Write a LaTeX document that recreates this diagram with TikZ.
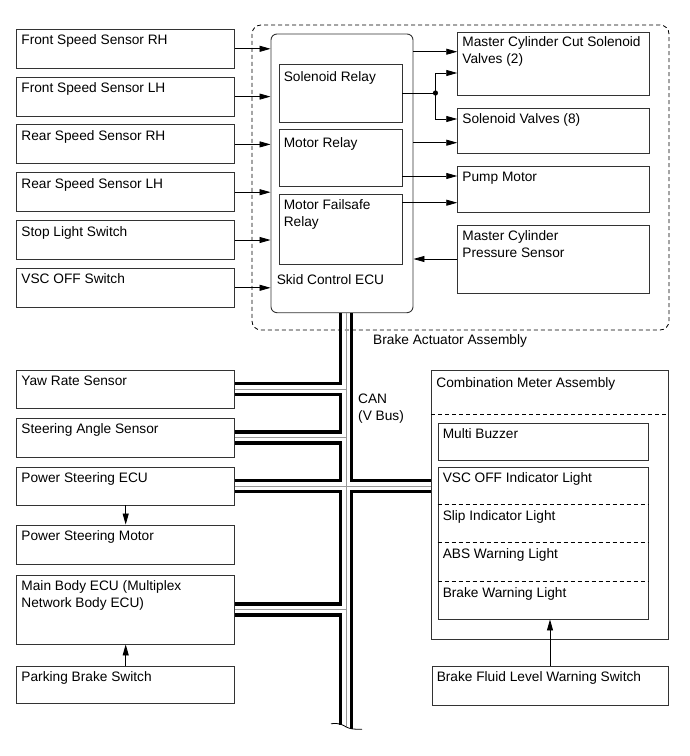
\documentclass[tikz,border=0pt]{standalone}
\usepackage{fontspec}
\setmainfont{Liberation Sans}
\usetikzlibrary{shapes,arrows,arrows.meta}
\tikzstyle{block} = [draw=black!80, line width=0.9pt, rectangle, inner sep=0pt,
    minimum width=218pt, minimum height=39pt]
\tikzstyle{txt} = [inner sep=0pt, anchor=north west, align=left]
\tikzstyle{lbl} = [txt, xshift=5pt, yshift=-6pt]
\tikzstyle{conn} = [draw, line width=0.8pt]
\tikzstyle{bus} = [draw, line width=3.2pt]
\tikzstyle{wire} = [draw, line width=0.9pt, black!40]
\tikzstyle{divider} = [draw=black, line width=0.8pt, dash pattern=on 4pt off 3pt]

\begin{document}
\begin{tikzpicture}[x=1pt, y=-1pt, >={Triangle[length=11pt,width=6pt]},
    font=\fontsize{13.7}{16.7}\selectfont]
\useasboundingbox (0,0) rectangle (689,756);

% brake actuator assembly
\node [divider, rounded corners=9pt, inner sep=0pt, minimum width=417pt, minimum height=305pt] (asm) at (460.5,177.5) {};
\node [txt] (asmtxt) at ([xshift=-87.5pt, yshift=-4pt]asm.south) {Brake Actuator Assembly};

% inputs
\node [block, label={[lbl]north west:Front Speed Sensor RH}] (fsrh) at (125.7,48.8) {};
\node [block, below of=fsrh, node distance=47.8pt, label={[lbl]north west:Front Speed Sensor LH}] (fslh) {};
\node [block, below of=fslh, node distance=47.8pt, label={[lbl]north west:Rear Speed Sensor RH}] (rsrh) {};
\node [block, below of=rsrh, node distance=47.8pt, label={[lbl]north west:Rear Speed Sensor LH}] (rslh) {};
\node [block, below of=rslh, node distance=47.8pt, label={[lbl]north west:Stop Light Switch}] (stopsw) {};
\node [block, below of=stopsw, node distance=47.8pt, label={[lbl]north west:VSC OFF Switch}] (vscsw) {};

% skid control ecu
\node [block, rounded corners=6pt, minimum width=142pt, minimum height=278.7pt] (ecu) at (342,173.35) {};
\node [txt] (ecutxt) at ([xshift=6pt, yshift=38.5pt]ecu.south west) {Skid Control ECU};
\node [block, minimum width=123pt, minimum height=58pt, label={[lbl, yshift=-2pt]north west:Solenoid Relay}] (solrel) at (340.5,93) {};
\node [block, minimum width=123pt, minimum height=57pt, label={[lbl, yshift=-3pt]north west:Motor Relay}] (motrel) at (340.5,157.5) {};
\node [block, minimum width=123pt, minimum height=70pt, label={[lbl]north west:Motor Failsafe\\Relay}] (failrel) at (340.5,229) {};

% actuators
\node [block, minimum width=191.3pt, minimum height=62.3pt, label={[lbl, yshift=2pt]north west:Master Cylinder Cut Solenoid\\Valves (2)}] (mccsv) at (553.35,63.85) {};
\node [block, minimum width=191.3pt, minimum height=45pt, label={[lbl]north west:Solenoid Valves (8)}] (sv) at (553.35,130.5) {};
\node [block, minimum width=191.3pt, minimum height=46pt, label={[lbl]north west:Pump Motor}] (pump) at (553.35,189) {};
\node [block, minimum width=191.3pt, minimum height=68pt, label={[lbl]north west:Master Cylinder\\Pressure Sensor}] (mcps) at (553.35,259) {};

% can nodes
\node [block, minimum height=38pt, label={[lbl]north west:Yaw Rate Sensor}] (yaw) at (125.7,389) {};
\node [block, label={[lbl]north west:Steering Angle Sensor}] (steer) at (125.7,437.5) {};
\node [block, minimum height=38pt, label={[lbl]north west:Power Steering ECU}] (psecu) at (125.7,486) {};
\node [block, label={[lbl]north west:Power Steering Motor}] (psmotor) at (125.7,544.5) {};
\node [block, minimum height=69pt, label={[lbl]north west:Main Body ECU (Multiplex\\Network Body ECU)}] (mbecu) at (125.7,609.5) {};
\node [block, minimum height=37pt, label={[lbl]north west:Parking Brake Switch}] (park) at (125.7,684.5) {};

% combination meter
\node [block, minimum width=236.3pt, minimum height=269pt, label={[lbl, yshift=-2pt]north west:Combination Meter Assembly}] (combo) at (549.85,504.5) {};
\draw [divider] ([yshift=-45pt]combo.north west) -- ([yshift=-45pt]combo.north east);
\node [block, minimum width=210pt, minimum height=37pt, label={[lbl]north west:Multi Buzzer}] (buzzer) at (543,441.5) {};
\node [block, minimum width=210pt, minimum height=152pt, label={[lbl]north west:VSC OFF Indicator Light}] (lights) at (543,543) {};
\draw [divider] ([yshift=-38pt]lights.north west) -- ([yshift=-38pt]lights.north east);
\draw [divider] ([yshift=-76pt]lights.north west) -- ([yshift=-76pt]lights.north east);
\draw [divider] ([yshift=-115pt]lights.north west) -- ([yshift=-115pt]lights.north east);
\node [lbl] (slip) at ([yshift=-38pt]lights.north west) {Slip Indicator Light};
\node [lbl] (abs) at ([yshift=-76pt]lights.north west) {ABS Warning Light};
\node [lbl] (brkw) at ([yshift=-115pt]lights.north west) {Brake Warning Light};
\node [block, minimum width=236pt, label={[lbl]north west:Brake Fluid Level Warning Switch}] (fluid) at (550,685.5) {};

% inputs to ecu
\draw [conn, ->] (fsrh) -- (fsrh -| ecu.west);
\draw [conn, ->] (fslh) -- (fslh -| ecu.west);
\draw [conn, ->] (rsrh) -- (rsrh -| ecu.west);
\draw [conn, ->] (rslh) -- (rslh -| ecu.west);
\draw [conn, ->] (stopsw) -- (stopsw -| ecu.west);
\draw [conn, ->] (vscsw) -- (vscsw -| ecu.west);

% ecu to actuators
\coordinate (jn) at ([xshift=33pt]solrel.east);
\draw [conn, ->] ([yshift=12.15pt]mccsv.west -| ecu.east) -- ([yshift=12.15pt]mccsv.west);
\draw [conn] (solrel.east) -- (jn);
\fill (jn) circle (2.6pt);
\draw [conn, ->] (jn) |- ([yshift=-9.15pt]mccsv.west);
\draw [conn, ->] (jn) |- ([yshift=11.5pt]sv.west);
\draw [conn, ->] ([yshift=-12.2pt]sv.west -| ecu.east) -- ([yshift=-12.2pt]sv.west);
\draw [conn, ->] ([yshift=13pt]pump.west -| motrel.east) -- ([yshift=13pt]pump.west);
\draw [conn, ->] ([yshift=-13.7pt]pump.west -| failrel.east) -- ([yshift=-13.7pt]pump.west);
\draw [conn, ->] (mcps) -- (mcps -| ecu.east);

\draw [conn, ->] (psecu) -- (psmotor);
\draw [conn, ->] (park) -- (mbecu);
\draw [conn, ->] (fluid) -- (fluid |- lights.south);

% can (v bus)
\coordinate (can) at ([xshift=4.3pt]ecu.south);
\coordinate (canend) at (346.3,727);
\node [txt] (cantxt) at (358,394) {CAN\\(V Bus)};
\draw [wire] (can) -- (canend);
\draw [wire] (yaw.east) -- (yaw.east -| can);
\draw [wire] (steer.east) -- (steer.east -| can);
\draw [wire] (psecu.east) -- (psecu.east -| combo.west);
\draw [wire] (mbecu.east) -- (mbecu.east -| can);
\draw [bus] ([xshift=-5.5pt]can) |- ([yshift=5.5pt]yaw.east);
\draw [bus] ([yshift=-5.5pt]yaw.east) -| ([xshift=-5.5pt, yshift=5.5pt]can |- steer.east) -- ([yshift=5.5pt]steer.east);
\draw [bus] ([yshift=-5.5pt]steer.east) -| ([xshift=-5.5pt, yshift=5.5pt]can |- psecu.east) -- ([yshift=5.5pt]psecu.east);
\draw [bus] ([yshift=-5.5pt]psecu.east) -| ([xshift=-5.5pt, yshift=5.5pt]can |- mbecu.east) -- ([yshift=5.5pt]mbecu.east);
\draw [bus] ([yshift=-5.5pt]mbecu.east) -| ([xshift=-5.5pt, yshift=2pt]canend);
\draw [bus] ([xshift=5.5pt]can) |- ([yshift=5.5pt]psecu.east -| combo.west);
\draw [bus] ([yshift=-5.5pt]psecu.east -| combo.west) -| ([xshift=5.5pt, yshift=-2pt]canend);
\draw [conn] (331,723.8) .. controls (339,722.5) and (343,725) .. (346.3,727) .. controls (350,729) and (355,729.5) .. (362,729.2);

\end{tikzpicture}
\end{document}
